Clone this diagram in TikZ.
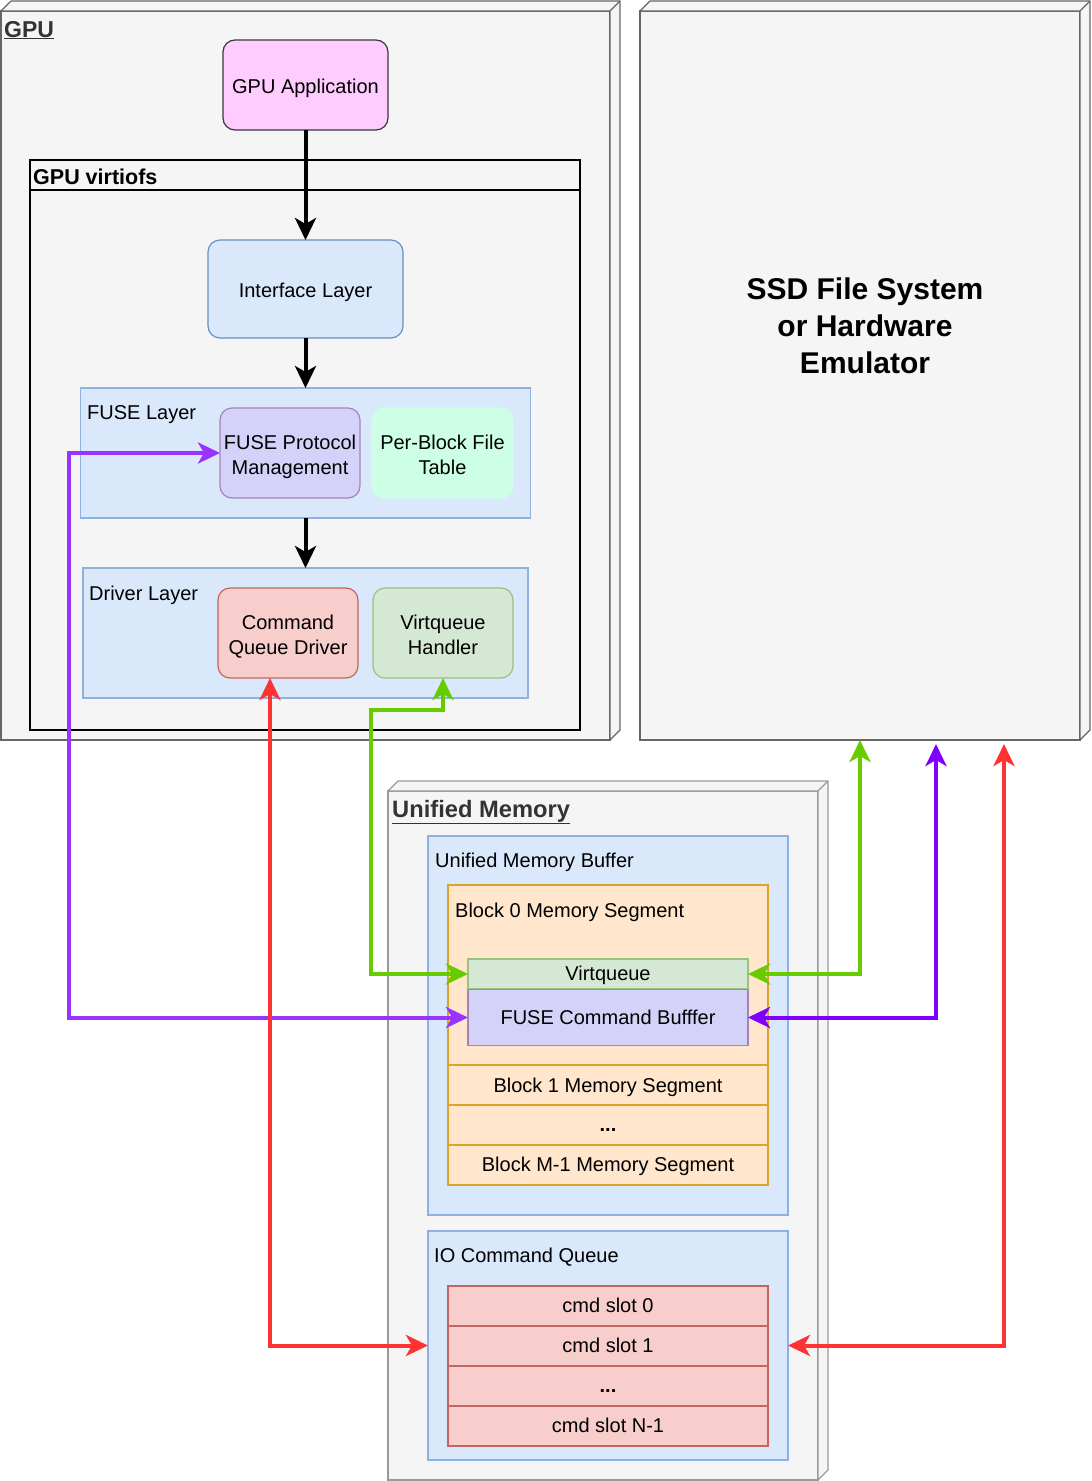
\documentclass[tikz,border=0pt]{standalone}
\usepackage{fontspec}
\setmainfont{Liberation Sans}
\usetikzlibrary{arrows.meta}

\definecolor{boxgray}{HTML}{F5F5F5}
\definecolor{gpuline}{HTML}{666666}
\definecolor{umline}{HTML}{999999}
\definecolor{labelgray}{HTML}{333333}
\definecolor{bluefill}{HTML}{DAE8FC}
\definecolor{bluedraw}{HTML}{6C8EBF}
\definecolor{layerdraw}{HTML}{8FB1E0}
\definecolor{pinkfill}{HTML}{FFCCFF}
\definecolor{pinkdraw}{HTML}{36393D}
\definecolor{lavfill}{HTML}{D5D2FA}
\definecolor{lavdraw}{HTML}{A384B8}
\definecolor{mintfill}{HTML}{CCFFE6}
\definecolor{redfill}{HTML}{F8CECC}
\definecolor{reddraw}{HTML}{C26563}
\definecolor{greenfill}{HTML}{D5E8D4}
\definecolor{greendraw}{HTML}{97C27F}
\definecolor{orfill}{HTML}{FFE6CC}
\definecolor{ordraw}{HTML}{DDA22A}
\definecolor{arrpurple}{HTML}{9933FF}
\definecolor{arrviolet}{HTML}{7F00FF}
\definecolor{arrgreen}{HTML}{66CC00}
\definecolor{arrred}{HTML}{FF3333}

\newcommand\boxsides[3]{%
  \filldraw[fill=boxgray, draw=#3, line width=1.2pt, line join=round]
    (#1.north west) -- ++(#2,-#2) -| ([shift={(#2,-#2)}]#1.south east)
    -- (#1.south east) -- (#1.north east) -- cycle;
  \draw[draw=#3, line width=1.2pt] (#1.north east) -- ++(#2,-#2);
}
\newcommand\tcell[1]{\raisebox{-4pt}[\height][\depth]{\begin{tabular}{@{}c@{}}#1\end{tabular}}}

\begin{document}
\begin{tikzpicture}[x=1pt,y=-1pt,
  font=\fontsize{20}{24.5}\selectfont,
  base/.style={inner sep=0pt, outer sep=0pt, line width=1.2pt},
  sz/.style 2 args={minimum width=#1pt, minimum height=#2pt},
  rbox/.style={base, rounded corners=12pt},
  row/.style={base, text height=17pt, text depth=4pt},
  frontbox/.style={base, fill=boxgray, draw=#1},
  lbl/.style={anchor=base west, inner sep=0pt},
  flow/.style={line width=4pt, -{Stealth[length=22pt, width=21pt, inset=6pt]}},
  link/.style={line width=4pt, draw=#1,
    {Stealth[length=22pt, width=21pt, inset=6pt]}-{Stealth[length=22pt, width=21pt, inset=6pt]}},
]
\useasboundingbox (0,0) rectangle (1092,1481);

% ---------- 3D boxes ----------
\node[frontbox=gpuline, sz={609}{729}] (gpu) at (305.5,375.5) {};
\boxsides{gpu}{10}{gpuline}
\node[frontbox=gpuline, sz={440}{729}] (ssd) at (860,375.5) {};
\boxsides{ssd}{10}{gpuline}
\node[frontbox=umline, sz={430}{689}] (um) at (603,1135.5) {};
\boxsides{um}{10}{umline}

\node[lbl, font=\fontsize{23}{26}\selectfont\bfseries, text=labelgray] (gpulbl) at (4,37) {\underline{GPU}};
\node[font=\fontsize{30}{37}\selectfont\bfseries, align=center] (ssdtext) at (865,326)
  {SSD File System\\or Hardware\\Emulator};
\node[lbl, font=\fontsize{23.7}{26}\selectfont\bfseries, text=labelgray] (umlbl) at (392,817) {\underline{Unified Memory}};

% ---------- GPU side ----------
\node[rbox, sz={165}{90}, fill=pinkfill, draw=pinkdraw] (app) at (305.5,85) {\tcell{GPU Application}};

\node[base, sz={550}{570}, draw=black] (vfs) at (305,445) {};
\draw[line width=1.2pt] ([yshift=-30pt]vfs.north west) -- ([yshift=-30pt]vfs.north east);
\node[lbl, font=\fontsize{21.5}{24}\selectfont\bfseries] (vfslbl) at (33,184) {GPU virtiofs};

\node[rbox, sz={195}{98}, fill=bluefill, draw=bluedraw] (intf) at (305.5,289) {\tcell{Interface Layer}};

\node[base, sz={450}{130}, fill=bluefill, draw=layerdraw] (fuse) at (305.5,453) {};
\node[lbl] (fuselbl) at (87,419) {FUSE Layer};
\node[rbox, sz={140}{90}, fill=lavfill, draw=lavdraw] (fpm) at (290,453) {\tcell{FUSE Protocol\\Management}};
\node[rbox, sz={141}{90}, fill=mintfill, draw=mintfill] (pbft) at (442.5,453) {\tcell{Per-Block File\\Table}};

\node[base, sz={445}{130}, fill=bluefill, draw=layerdraw] (drv) at (305.5,633) {};
\node[lbl] (drvlbl) at (89,600) {Driver Layer};
\node[rbox, sz={140}{90}, fill=redfill, draw=reddraw] (cqd) at (288,633) {\tcell{Command\\Queue Driver}};
\node[rbox, sz={140}{90}, fill=greenfill, draw=greendraw] (vqh) at (443,633) {\tcell{Virtqueue\\Handler}};

% ---------- Unified memory ----------
\node[base, sz={360}{379}, fill=bluefill, draw=layerdraw] (umb) at (608,1025.5) {};
\node[lbl] (umblbl) at (435,867) {Unified Memory Buffer};
\node[base, sz={320}{180}, fill=orfill, draw=ordraw] (b0) at (608,975) {};
\node[lbl] (b0lbl) at (455,917) {Block 0 Memory Segment};
\node[row, sz={280}{30}, fill=greenfill, draw=greendraw] (vq) at (608,974) {Virtqueue};
\node[row, sz={280}{56}, fill=lavfill, draw=lavdraw] (fcb) at (608,1017.5) {FUSE Command Bufffer};
\node[row, sz={320}{40}, fill=orfill, draw=ordraw] (b1) at (608,1085.5) {Block 1 Memory Segment};
\node[row, sz={320}{40}, fill=orfill, draw=ordraw, font=\fontsize{20}{24.5}\selectfont\bfseries] (bdots) at (608,1125) {...};
\node[row, sz={320}{40}, fill=orfill, draw=ordraw] (bm1) at (608,1165) {Block M-1 Memory Segment};

\node[base, sz={360}{229}, fill=bluefill, draw=layerdraw] (ioq) at (608,1345.5) {};
\node[lbl] (ioqlbl) at (434,1262) {IO Command Queue};
\node[row, sz={320}{40}, fill=redfill, draw=reddraw] (s0) at (608,1306) {cmd slot 0};
\node[row, sz={320}{40}, fill=redfill, draw=reddraw] (s1) at (608,1346) {cmd slot 1};
\node[row, sz={320}{40}, fill=redfill, draw=reddraw, font=\fontsize{20}{24.5}\selectfont\bfseries] (sdots) at (608,1386) {...};
\node[row, sz={320}{40}, fill=redfill, draw=reddraw] (sn) at (608,1426) {cmd slot N-1};

% ---------- connectors ----------
\draw[flow] (app.south) -- (intf.north);
\draw[flow] (intf.south) -- (fuse.north);
\draw[flow] (fuse.south) -- (drv.north);

\draw[link=arrpurple] (fpm.west) -- ++(-151,0) |- (fcb.west);
\draw[link=arrgreen] (vqh.south) -- ++(0,32) -- ++(-72,0) |- (vq.west);
\draw[link=arrred] ([xshift=-18pt]cqd.south) |- (ioq.west);

\coordinate (ssdg) at (860,740);
\coordinate (ssdp) at (936,744);
\coordinate (ssdr) at (1004,744);
\draw[link=arrgreen] (ssdg) |- (vq.east);
\draw[link=arrviolet] (ssdp) |- (fcb.east);
\draw[link=arrred] (ssdr) |- (ioq.east);
\end{tikzpicture}
\end{document}
